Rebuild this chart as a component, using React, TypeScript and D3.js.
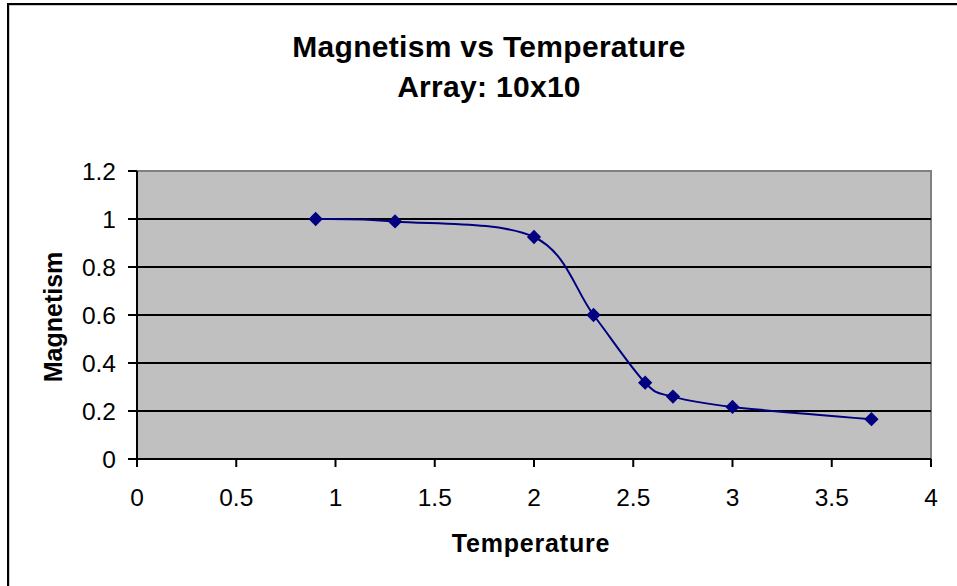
import React from "react";
import * as d3 from "d3";

const temperature = [0.9, 1.3, 2.0, 2.3, 2.56, 2.7, 3.0, 3.7];
const magnetism = [1.0, 0.99, 0.925, 0.6, 0.318, 0.26, 0.217, 0.166];
const xTicks = [0, 0.5, 1, 1.5, 2, 2.5, 3, 3.5, 4];
const yTicks = [0, 0.2, 0.4, 0.6, 0.8, 1, 1.2];
const titleLines = ["Magnetism vs Temperature", "Array: 10x10"];
const xTitle = "Temperature";
const yTitle = "Magnetism";

const W = 957;
const H = 586;
const plot = { left: 137, right: 931, top: 171, bottom: 459 };
const FONT = "'Liberation Sans', Arial, sans-serif";

export default function App() {
  const x = d3.scaleLinear().domain([0, 4]).range([plot.left, plot.right]);
  const y = d3.scaleLinear().domain([0, 1.2]).range([plot.bottom, plot.top]);
  const pts: [number, number][] = temperature.map((t, i) => [t, magnetism[i]]);
  const line = d3
    .line<[number, number]>()
    .x((d) => x(d[0]))
    .y((d) => y(d[1]))
    .curve(d3.curveCardinal.tension(0));
  const diamond = d3.symbol().type(d3.symbolDiamond2).size(130)();

  return (
    <svg
      width={W}
      height={H}
      style={{ position: "absolute", left: 0, top: 0, background: "#fff" }}
      fontFamily={FONT}
    >
      <rect x={0} y={0} width={W} height={H} fill="#fff" />
      {/* chart area border (extends past the frame) */}
      <rect x={9} y={5} width={1200} height={1200} fill="none" stroke="#999" strokeWidth={1} />
      <rect x={8} y={4} width={1200} height={1200} fill="none" stroke="#000" strokeWidth={2} />

      {/* title */}
      {titleLines.map((t, i) => (
        <text
          key={t}
          x={489}
          y={57 + i * 40}
          textAnchor="middle"
          fontSize={30}
          fontWeight="bold"
          letterSpacing={0.3}
          fill="#000"
        >
          {t}
        </text>
      ))}

      {/* plot area */}
      <rect
        x={plot.left}
        y={plot.top}
        width={plot.right - plot.left}
        height={plot.bottom - plot.top}
        fill="#C0C0C0"
        stroke="#808080"
        strokeWidth={2}
      />
      {/* gridlines */}
      {yTicks
        .filter((v) => v > 0 && v < 1.2)
        .map((v) => (
          <line
            key={"g" + v}
            x1={plot.left}
            x2={plot.right}
            y1={y(v)}
            y2={y(v)}
            stroke="#000"
            strokeWidth={2}
          />
        ))}

      {/* axes */}
      <line x1={plot.left} x2={plot.left} y1={plot.top} y2={plot.bottom} stroke="#000" strokeWidth={2} />
      <line x1={plot.left} x2={plot.right} y1={plot.bottom} y2={plot.bottom} stroke="#000" strokeWidth={2} />

      {/* y ticks */}
      {yTicks.map((v) => (
        <g key={"y" + v}>
          <line x1={plot.left - 9} x2={plot.left} y1={y(v)} y2={y(v)} stroke="#000" strokeWidth={2} />
          <text x={116} y={y(v) + 9} textAnchor="end" fontSize={24.5} fill="#000">
            {v}
          </text>
        </g>
      ))}

      {/* x ticks */}
      {xTicks.map((v) => (
        <g key={"x" + v}>
          <line x1={x(v)} x2={x(v)} y1={plot.bottom} y2={plot.bottom + 8} stroke="#000" strokeWidth={2} />
          <text x={x(v)} y={506} textAnchor="middle" fontSize={24.5} fill="#000">
            {v}
          </text>
        </g>
      ))}

      {/* axis titles */}
      <text
        x={531}
        y={552}
        textAnchor="middle"
        fontSize={25}
        fontWeight="bold"
        letterSpacing={0.8}
        fill="#000"
      >
        {xTitle}
      </text>
      <text
        transform={`translate(62,${317}) rotate(-90)`}
        textAnchor="middle"
        fontSize={25}
        fontWeight="bold"
        fill="#000"
      >
        {yTitle}
      </text>

      {/* series */}
      <path d={line(pts) || ""} fill="none" stroke="#000080" strokeWidth={2} />
      {pts.map((p, i) => (
        <path key={"m" + i} d={diamond || ""} transform={`translate(${x(p[0])},${y(p[1])})`} fill="#000080" />
      ))}
    </svg>
  );
}
